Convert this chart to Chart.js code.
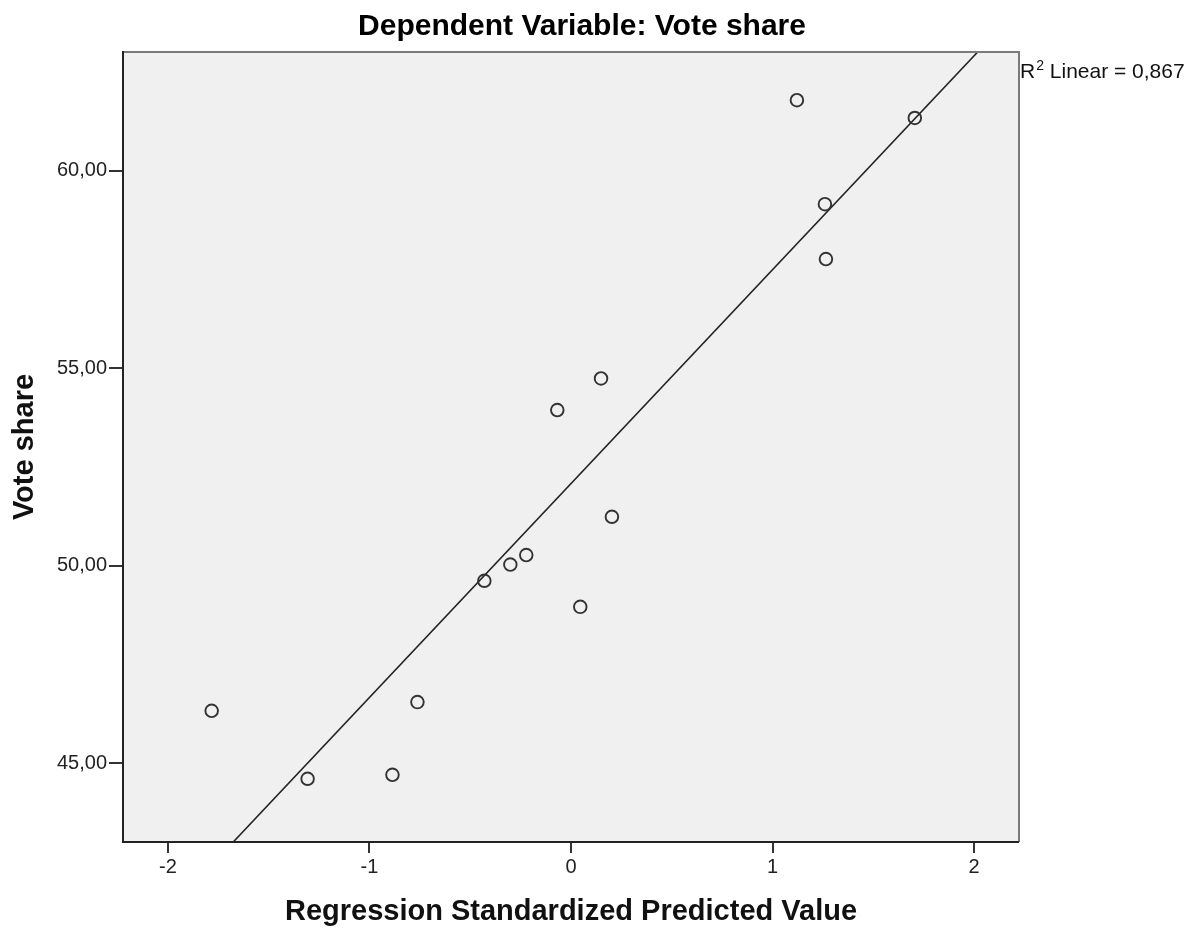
<!DOCTYPE html>
<html>
<head>
<meta charset="utf-8">
<script src="https://cdn.jsdelivr.net/npm/chart.js@4/dist/chart.umd.min.js"></script>
<style>
  html, body { margin: 0; padding: 0; background: #fff; }
  #wrap { width: 1196px; height: 931px; }
</style>
</head>
<body>
<div id="wrap"><canvas id="scatter"></canvas></div>
<script>
// values
var predicted = [1.121, 1.706, 1.260, 1.265, 0.149, -0.068, 0.203, -0.222, -0.301, -0.430, 0.046, -0.762, -1.783, -0.886, -1.307];
var voteShare = [61.78, 61.33, 59.15, 57.76, 54.74, 53.94, 51.24, 50.27, 50.03, 49.62, 48.96, 46.55, 46.33, 44.71, 44.61];
var fitX = [-1.676, 2.018];
var fitY = [43.01, 63.00];
var xTicks = [-2, -1, 0, 1, 2];
var yTicks = [45, 50, 55, 60];
var rSquared = "0,867";

var FONT = "'Liberation Sans', Arial, sans-serif";

var points = predicted.map(function (x, i) { return { x: x, y: voteShare[i] }; });
var fitLine = fitX.map(function (x, i) { return { x: x, y: fitY[i] }; });

// grey plot background + frame, title and R2 label
var spssDecor = {
  id: "spssDecor",
  beforeDatasetsDraw: function (chart) {
    var a = chart.chartArea, ctx = chart.ctx;
    ctx.save();
    ctx.fillStyle = "#f0f0f0";
    ctx.fillRect(a.left, a.top, a.right - a.left, a.bottom - a.top);
    ctx.restore();
  },
  afterDraw: function (chart) {
    var a = chart.chartArea, ctx = chart.ctx;
    ctx.save();
    ctx.lineWidth = 2;
    ctx.strokeStyle = "#7a7a7a";
    ctx.beginPath();
    ctx.moveTo(a.left, a.top);
    ctx.lineTo(a.right, a.top);
    ctx.lineTo(a.right, a.bottom);
    ctx.stroke();
    ctx.strokeStyle = "#222";
    ctx.beginPath();
    ctx.moveTo(a.right, a.bottom);
    ctx.lineTo(a.left, a.bottom);
    ctx.lineTo(a.left, a.top - 1);
    ctx.stroke();

    // title
    ctx.fillStyle = "#000";
    ctx.font = "bold 30px " + FONT;
    ctx.textAlign = "center";
    ctx.textBaseline = "alphabetic";
    ctx.fillText("Dependent Variable: Vote share", 582, 35);

    // R2 label
    ctx.fillStyle = "#111";
    ctx.textAlign = "left";
    ctx.font = "21px " + FONT;
    var x = a.right + 1, y = 78;
    ctx.fillText("R", x, y);
    x += ctx.measureText("R").width + 1;
    ctx.font = "14px " + FONT;
    ctx.fillText("2", x, y - 8);
    x += ctx.measureText("2").width;
    ctx.font = "21px " + FONT;
    ctx.fillText(" Linear = " + rSquared, x, y);
    ctx.restore();
  }
};

var ctx = document.getElementById("scatter").getContext("2d");
var myChart = new Chart(ctx, {
  type: "scatter",
  data: {
    datasets: [
      {
        label: "Fit",
        type: "line",
        data: fitLine,
        borderColor: "#222",
        borderWidth: 1.6,
        pointRadius: 0,
        fill: false,
        order: 2
      },
      {
        label: "Vote share",
        data: points,
        pointStyle: "circle",
        pointRadius: 6.3,
        borderWidth: 1.9,
        borderColor: "#333",
        backgroundColor: "rgba(0,0,0,0)",
        order: 1
      }
    ]
  },
  options: {
    responsive: true,
    maintainAspectRatio: false,
    animation: false,
    layout: { padding: { top: 52, right: 177, bottom: 0, left: 0 } },
    plugins: {
      legend: { display: false },
      title: { display: false },
      tooltip: { enabled: false }
    },
    scales: {
      x: {
        type: "linear",
        min: -2.223,
        max: 2.223,
        afterBuildTicks: function (s) { s.ticks = xTicks.map(function (v) { return { value: v }; }); },
        afterFit: function (s) { s.height = 89; },
        border: { display: false },
        grid: { drawOnChartArea: false, drawTicks: true, tickLength: 11, color: "#333", lineWidth: 2 },
        ticks: {
          color: "#222",
          font: { family: FONT, size: 20 },
          padding: 2,
          maxRotation: 0,
          callback: function (v) { return String(v); }
        },
        title: {
          display: true,
          text: "Regression Standardized Predicted Value",
          color: "#111",
          font: { family: FONT, size: 29, weight: "bold" },
          padding: { top: 0, bottom: 2 }
        }
      },
      y: {
        type: "linear",
        min: 43.01,
        max: 63.0,
        afterBuildTicks: function (s) { s.ticks = yTicks.map(function (v) { return { value: v }; }); },
        afterFit: function (s) { s.width = 123; },
        border: { display: false },
        grid: { drawOnChartArea: false, drawTicks: true, tickLength: 14, color: "#333", lineWidth: 2 },
        ticks: {
          color: "#222",
          font: { family: FONT, size: 20 },
          padding: 2,
          callback: function (v) { return v.toFixed(2).replace(".", ","); }
        },
        title: {
          display: true,
          text: "Vote share",
          color: "#111",
          font: { family: FONT, size: 29, weight: "bold" },
          padding: { top: 8, bottom: 0 }
        }
      }
    }
  },
  plugins: [spssDecor]
});
</script>
</body>
</html>
